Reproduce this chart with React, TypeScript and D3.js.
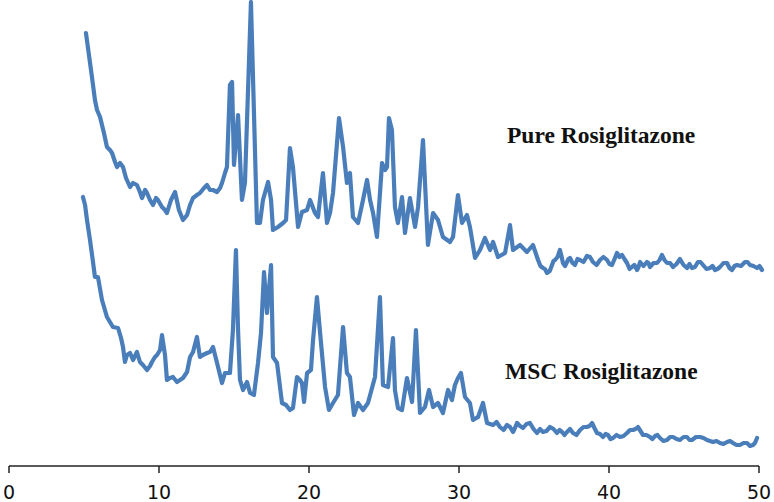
import React from "react";
import * as d3 from "d3";

// 2θ (degrees) and intensity (arbitrary units) for Pure Rosiglitazone
const pureTheta = [5.13,5.33,5.53,5.73,5.87,6.07,6.33,6.53,6.73,6.87,7.07,7.2,7.4,7.6,7.8,8.07,8.27,8.53,8.73,8.87,9.07,9.2,9.4,9.6,9.8,9.93,10.2,10.4,10.53,10.8,11.07,11.33,11.6,11.87,12.07,12.27,12.53,12.73,13.0,13.2,13.4,13.6,13.87,14.07,14.2,14.4,14.53,14.73,14.87,15.0,15.27,15.53,15.73,16.13,16.53,16.73,16.93,17.27,17.47,17.6,17.93,18.27,18.47,18.73,18.93,19.27,19.53,19.87,20.07,20.4,20.6,20.93,21.2,21.4,21.6,22.0,22.27,22.53,22.73,22.93,23.27,23.6,23.87,24.07,24.27,24.53,24.87,25.07,25.2,25.33,25.53,25.73,25.93,26.2,26.4,26.73,27.07,27.27,27.6,27.93,28.27,28.6,28.93,29.4,29.6,29.93,30.2,30.53,30.73,31.07,31.4,31.73,32.07,32.27,32.6,33.07,33.4,33.6,34.07,34.53,34.93,35.27,35.6,35.87,36.2,36.4,36.73,36.93,37.2,37.4,37.73,38.07,38.53,38.93,39.4,39.87,40.2,40.53,40.87,41.2,41.53,41.87,42.07,42.53,42.73,43.2,43.53,43.87,44.27,44.73,45.2,45.53,45.93,46.27,46.73,47.07,47.4,47.87,48.2,48.53,49.07,49.4,49.87,50.2];
const pureIntensity = [433,411,389,366,356,349,333,319,316,313,304,299,303,299,288,279,283,281,274,268,276,273,266,261,268,266,259,256,253,266,274,256,246,251,261,268,271,273,278,281,276,276,274,278,283,293,299,381,384,301,351,266,283,464,243,243,266,284,266,236,239,243,246,318,299,239,254,256,266,253,249,293,243,253,273,348,319,283,293,249,243,266,286,266,253,229,303,296,299,348,336,259,243,269,233,268,239,259,326,221,253,246,229,224,229,271,243,251,239,208,216,228,216,224,209,213,241,216,221,214,221,206,198,193,201,206,216,203,204,208,201,206,210,204,206,206,201,213,211,203,199,196,204,204,199,203,211,203,199,207,198,198,204,201,198,196,199,203,196,201,204,201,198,196];
// extra readings of the fine noise in the Pure tail
const pureDetailTheta = [35.43,35.73,36.05,36.3,36.57,36.83,37.07,37.3,37.57,37.9,38.3,38.73,39.17,39.63,40.03,40.37,40.7,41.03,41.37,41.7,41.97,42.3,42.63,42.97,43.37,43.7,44.07,44.5,44.97,45.37,45.73,46.1,46.5,46.9,47.23,47.63,48.03,48.37,48.8,49.23,49.63,50.03];
const pureDetailIntensity = [200,197,195,205,209,210,200,207,203,207,204,209,201,209,202,207,209,207,197,201,199,200,203,203,206,206,203,202,201,202,199,204,197,200,197,203,198,200,200,204,200,200];

// 2θ (degrees) and intensity (arbitrary units) for MSC Rosiglitazone
const mscTheta = [4.93,5.07,5.2,5.4,5.6,5.73,5.93,6.2,6.53,6.73,6.93,7.27,7.47,7.6,7.73,7.87,8.07,8.27,8.53,8.73,8.93,9.2,9.4,9.53,9.73,9.87,10.07,10.2,10.4,10.53,10.73,10.93,11.2,11.4,11.6,11.87,12.07,12.27,12.53,12.73,12.93,13.2,13.4,13.6,13.87,14.2,14.4,14.73,14.93,15.13,15.27,15.4,15.6,15.87,16.07,16.33,16.6,16.8,17.0,17.2,17.47,17.6,17.87,18.2,18.47,18.73,18.93,19.2,19.4,19.53,19.67,19.87,20.13,20.27,20.53,20.8,21.07,21.33,21.6,21.93,22.27,22.53,22.73,23.0,23.27,23.6,23.93,24.4,24.73,24.93,25.27,25.6,25.73,25.93,26.2,26.53,26.87,27.13,27.4,27.73,28.0,28.27,28.6,28.93,29.27,29.53,29.73,29.93,30.13,30.4,30.73,30.93,31.27,31.6,31.87,32.27,32.73,33.2,33.6,33.87,34.27,34.73,35.2,35.6,36.07,36.53,36.87,37.2,37.6,38.07,38.53,38.87,39.2,39.6,39.93,40.27,40.73,41.2,41.6,41.93,42.27,42.73,43.07,43.4,43.87,44.27,44.73,45.2,45.53,46.07,46.53,46.93,47.4,47.87,48.27,48.73,49.2,49.6,49.87];
const mscIntensity = [269,261,246,226,204,189,189,166,149,144,139,138,128,119,104,111,113,106,114,104,101,96,100,104,109,111,116,131,111,86,88,89,84,86,88,94,109,114,129,109,111,113,114,119,103,83,93,93,136,216,136,86,76,84,73,71,103,133,194,153,201,109,103,63,61,56,58,89,86,83,64,93,96,126,169,123,79,56,63,71,139,93,89,51,63,56,63,89,169,81,79,128,76,58,56,88,64,136,53,59,76,59,63,53,76,66,81,88,93,69,63,46,49,63,43,41,39,41,34,43,38,43,33,34,39,33,34,34,33,36,39,43,33,29,31,28,29,33,36,39,31,29,30,28,26,29,26,29,26,29,26,24,23,24,23,21,23,21,28];
// extra readings of the fine noise in the MSC tail
const mscDetailTheta = [32.5,32.97,33.4,33.73,34.07,34.5,34.97,35.4,35.83,36.3,36.7,37.03,37.4,37.83,38.3,38.7,39.03,39.4,39.77,40.1,40.5,40.97,41.4,41.77,42.1,42.5,42.9,43.23,43.63,44.07,44.5,44.97,45.37,45.8,46.3,46.73,47.17,47.63,48.07,48.5,48.97,49.4,49.73];
const mscDetailIntensity = [44,36,39,38,40,42,37,37,35,37,36,31,37,31,39,40,38,32,32,27,31,30,36,37,35,31,27,31,25,29,27,29,26,29,28,25,25,22,25,21,23,20,23];

const xTicks = [0, 10, 20, 30, 40, 50];
const seriesLabels = ["Pure Rosiglitazone", "MSC Rosiglitazone"];

const W = 774;
const H = 502;

function merge(t1: number[], v1: number[], t2: number[], v2: number[]): [number, number][] {
  const pts = t1.map((t, i) => [t, v1[i]] as [number, number]).concat(
    t2.map((t, i) => [t, v2[i]] as [number, number])
  );
  return pts.sort((a, b) => a[0] - b[0]);
}

export default function App() {
  const x = d3.scaleLinear().domain([0, 50]).range([9, 759]);
  const y = d3.scaleLinear().domain([0, 466]).range([466, 0]);
  const line = d3
    .line<[number, number]>()
    .x((d) => x(d[0]))
    .y((d) => y(d[1]));
  const pure = merge(pureTheta, pureIntensity, pureDetailTheta, pureDetailIntensity);
  const msc = merge(mscTheta, mscIntensity, mscDetailTheta, mscDetailIntensity);
  const axisY = y(0);
  const color = "#4a7ebb";

  return (
    <svg
      width={W}
      height={H}
      style={{ position: "absolute", left: 0, top: 0, background: "#fff" }}
    >
      <path d={line(pure) || ""} fill="none" stroke={color} strokeWidth={4.2} strokeLinejoin="round" strokeLinecap="round" />
      <path d={line(msc) || ""} fill="none" stroke={color} strokeWidth={4.2} strokeLinejoin="round" strokeLinecap="round" />

      <g>
        <line x1={x(0)} x2={x(50)} y1={axisY} y2={axisY} stroke="#222" strokeWidth={1.5} />
        {xTicks.map((t) => (
          <g key={t} transform={`translate(${x(t)},0)`}>
            <line y1={axisY} y2={axisY + 7} stroke="#222" strokeWidth={1.5} />
            <text
              y={499}
              textAnchor="middle"
              fontFamily="'DejaVu Sans', Verdana, sans-serif"
              fontSize={19}
              fill="#111"
            >
              {t}
            </text>
          </g>
        ))}
      </g>

      <text x={507} y={143} fontFamily="'Liberation Serif', 'Times New Roman', serif" fontWeight="bold" fontSize={23.5} fill="#111">
        {seriesLabels[0]}
      </text>
      <text x={505} y={379} fontFamily="'Liberation Serif', 'Times New Roman', serif" fontWeight="bold" fontSize={23.5} fill="#111">
        {seriesLabels[1]}
      </text>
    </svg>
  );
}
